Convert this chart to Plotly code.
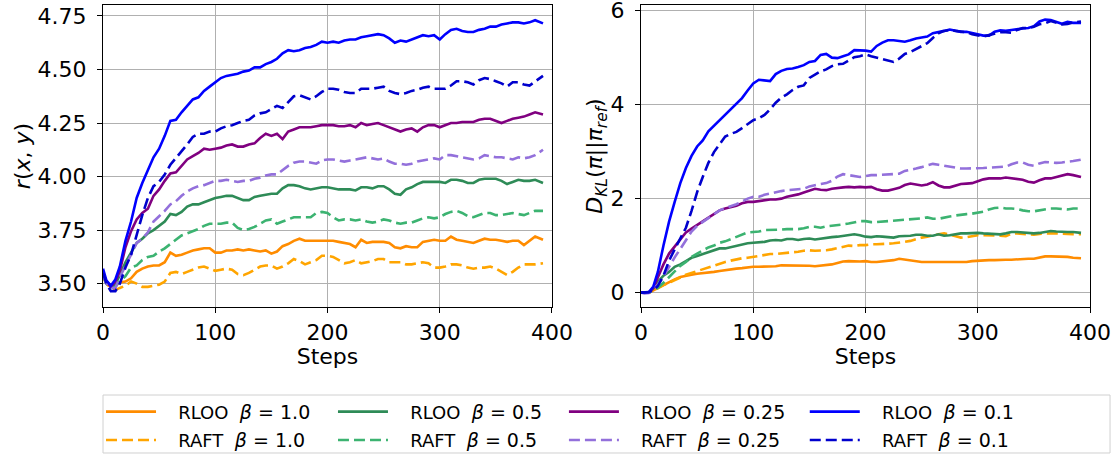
import plotly.graph_objects as go

# ---------------- data ----------------
steps = [0, 3, 7, 11, 15, 20, 25, 30, 35, 40,
         45, 50, 55, 60, 65, 70, 75, 80, 85, 90,
         95, 100, 105, 110, 115, 120, 125, 130, 135, 140,
         145, 150, 155, 160, 165, 170, 175, 180, 185, 190,
         195, 200, 205, 210, 215, 220, 225, 230, 235, 240,
         245, 250, 255, 260, 265, 270, 275, 280, 285, 290,
         295, 300, 305, 310, 315, 320, 325, 330, 335, 340,
         345, 350, 355, 360, 365, 370, 375, 380, 385, 392]

# reward r(x, y)
rloo_r_10 = [3.54, 3.51, 3.49, 3.495, 3.505, 3.51, 3.525, 3.555, 3.57, 3.58,
             3.585, 3.585, 3.60, 3.645, 3.63, 3.635, 3.645, 3.655, 3.66, 3.665,
             3.665, 3.645, 3.645, 3.655, 3.655, 3.66, 3.655, 3.66, 3.655, 3.65,
             3.655, 3.64, 3.65, 3.675, 3.685, 3.70, 3.71, 3.70, 3.70, 3.70,
             3.70, 3.70, 3.70, 3.695, 3.69, 3.685, 3.67, 3.705, 3.69, 3.695,
             3.695, 3.695, 3.69, 3.67, 3.665, 3.675, 3.67, 3.67, 3.695, 3.70,
             3.705, 3.70, 3.70, 3.72, 3.705, 3.70, 3.695, 3.69, 3.70, 3.71,
             3.705, 3.705, 3.70, 3.695, 3.70, 3.70, 3.68, 3.70, 3.72, 3.705]
raft_r_10 = [3.53, 3.50, 3.48, 3.47, 3.48, 3.49, 3.51, 3.50, 3.485, 3.485,
             3.49, 3.495, 3.51, 3.55, 3.555, 3.545, 3.555, 3.565, 3.575, 3.58,
             3.57, 3.56, 3.565, 3.57, 3.565, 3.545, 3.54, 3.55, 3.565, 3.58,
             3.585, 3.585, 3.57, 3.58, 3.595, 3.615, 3.605, 3.59, 3.60, 3.61,
             3.63, 3.63, 3.625, 3.61, 3.595, 3.60, 3.61, 3.595, 3.60, 3.605,
             3.615, 3.615, 3.60, 3.60, 3.60, 3.59, 3.59, 3.595, 3.60, 3.595,
             3.575, 3.575, 3.58, 3.59, 3.59, 3.585, 3.575, 3.57, 3.575, 3.575,
             3.58, 3.57, 3.555, 3.54, 3.555, 3.575, 3.59, 3.59, 3.59, 3.595]
rloo_r_05 = [3.55, 3.51, 3.49, 3.495, 3.54, 3.60, 3.645, 3.69, 3.71, 3.735,
             3.75, 3.77, 3.79, 3.825, 3.82, 3.835, 3.86, 3.87, 3.87, 3.88,
             3.89, 3.90, 3.905, 3.91, 3.91, 3.90, 3.89, 3.89, 3.905, 3.91,
             3.915, 3.92, 3.92, 3.945, 3.96, 3.96, 3.955, 3.945, 3.94, 3.945,
             3.95, 3.95, 3.945, 3.94, 3.94, 3.94, 3.935, 3.95, 3.95, 3.945,
             3.955, 3.955, 3.94, 3.92, 3.915, 3.94, 3.95, 3.965, 3.975, 3.975,
             3.975, 3.975, 3.97, 3.985, 3.985, 3.98, 3.97, 3.97, 3.985, 3.99,
             3.99, 3.99, 3.98, 3.965, 3.975, 3.985, 3.98, 3.98, 3.985, 3.97]
raft_r_05 = [3.54, 3.50, 3.48, 3.485, 3.51, 3.535, 3.575, 3.585, 3.61, 3.625,
             3.63, 3.65, 3.665, 3.685, 3.705, 3.725, 3.735, 3.745, 3.755, 3.77,
             3.78, 3.78, 3.78, 3.785, 3.785, 3.76, 3.75, 3.755, 3.765, 3.78,
             3.795, 3.80, 3.78, 3.79, 3.80, 3.81, 3.81, 3.81, 3.81, 3.83,
             3.835, 3.83, 3.81, 3.795, 3.80, 3.80, 3.795, 3.80, 3.79, 3.785,
             3.79, 3.80, 3.795, 3.785, 3.78, 3.785, 3.785, 3.795, 3.805, 3.81,
             3.805, 3.81, 3.825, 3.835, 3.84, 3.83, 3.815, 3.81, 3.82, 3.83,
             3.83, 3.82, 3.82, 3.825, 3.83, 3.825, 3.82, 3.83, 3.84, 3.84]
rloo_r_025 = [3.55, 3.51, 3.485, 3.51, 3.56, 3.67, 3.745, 3.80, 3.83, 3.85,
              3.91, 3.94, 3.98, 4.015, 4.02, 4.05, 4.08, 4.095, 4.11, 4.13,
              4.125, 4.13, 4.135, 4.145, 4.15, 4.14, 4.14, 4.15, 4.155, 4.18,
              4.20, 4.19, 4.20, 4.175, 4.21, 4.22, 4.23, 4.23, 4.23, 4.235,
              4.24, 4.24, 4.24, 4.235, 4.235, 4.24, 4.23, 4.25, 4.24, 4.245,
              4.25, 4.24, 4.23, 4.22, 4.21, 4.22, 4.225, 4.21, 4.23, 4.24,
              4.24, 4.23, 4.24, 4.25, 4.25, 4.255, 4.255, 4.255, 4.265, 4.27,
              4.27, 4.26, 4.25, 4.26, 4.27, 4.275, 4.28, 4.29, 4.30, 4.29]
raft_r_025 = [3.54, 3.50, 3.48, 3.48, 3.53, 3.58, 3.635, 3.69, 3.71, 3.74,
              3.79, 3.815, 3.84, 3.87, 3.885, 3.91, 3.93, 3.945, 3.955, 3.96,
              3.97, 3.98, 3.98, 3.985, 3.98, 3.975, 3.98, 3.98, 3.99, 3.995,
              4.005, 4.01, 4.01, 4.03, 4.05, 4.065, 4.07, 4.07, 4.065, 4.06,
              4.075, 4.08, 4.08, 4.075, 4.07, 4.075, 4.08, 4.085, 4.09, 4.085,
              4.08, 4.085, 4.07, 4.06, 4.06, 4.055, 4.06, 4.07, 4.075, 4.08,
              4.085, 4.08, 4.10, 4.10, 4.095, 4.09, 4.085, 4.08, 4.085, 4.10,
              4.095, 4.09, 4.09, 4.085, 4.08, 4.09, 4.085, 4.09, 4.10, 4.125]
rloo_r_01 = [3.57, 3.515, 3.49, 3.52, 3.58, 3.70, 3.79, 3.90, 3.97, 4.03,
             4.09, 4.13, 4.19, 4.26, 4.265, 4.30, 4.33, 4.36, 4.37, 4.40,
             4.42, 4.44, 4.46, 4.47, 4.475, 4.48, 4.49, 4.495, 4.51, 4.51,
             4.525, 4.535, 4.55, 4.575, 4.59, 4.585, 4.59, 4.60, 4.605, 4.615,
             4.63, 4.625, 4.63, 4.625, 4.635, 4.64, 4.64, 4.65, 4.655, 4.66,
             4.665, 4.66, 4.645, 4.625, 4.635, 4.63, 4.64, 4.65, 4.66, 4.655,
             4.66, 4.64, 4.665, 4.685, 4.69, 4.68, 4.675, 4.675, 4.685, 4.69,
             4.70, 4.70, 4.71, 4.715, 4.72, 4.72, 4.715, 4.72, 4.73, 4.715]
raft_r_01 = [3.55, 3.50, 3.465, 3.465, 3.50, 3.575, 3.635, 3.73, 3.82, 3.90,
             3.955, 3.975, 4.01, 4.055, 4.085, 4.12, 4.15, 4.185, 4.20, 4.20,
             4.21, 4.21, 4.225, 4.235, 4.24, 4.25, 4.26, 4.265, 4.285, 4.295,
             4.30, 4.315, 4.33, 4.32, 4.35, 4.375, 4.38, 4.37, 4.36, 4.375,
             4.395, 4.41, 4.41, 4.405, 4.395, 4.39, 4.39, 4.41, 4.41, 4.41,
             4.415, 4.42, 4.40, 4.39, 4.385, 4.39, 4.40, 4.405, 4.415, 4.42,
             4.41, 4.41, 4.41, 4.425, 4.445, 4.445, 4.44, 4.43, 4.45, 4.46,
             4.455, 4.445, 4.435, 4.42, 4.44, 4.44, 4.43, 4.425, 4.445, 4.47]

# KL divergence D_KL(pi || pi_ref)
rloo_kl_10 = [0, 0, 0, 0.05, 0.10, 0.17, 0.23, 0.28, 0.33, 0.36,
              0.38, 0.40, 0.41, 0.43, 0.44, 0.46, 0.48, 0.49, 0.51, 0.52,
              0.54, 0.55, 0.55, 0.55, 0.56, 0.56, 0.58, 0.58, 0.58, 0.58,
              0.57, 0.57, 0.56, 0.57, 0.58, 0.60, 0.63, 0.66, 0.67, 0.66,
              0.66, 0.67, 0.65, 0.65, 0.66, 0.67, 0.69, 0.72, 0.70, 0.68,
              0.66, 0.65, 0.65, 0.65, 0.65, 0.65, 0.65, 0.65, 0.65, 0.65,
              0.67, 0.68, 0.69, 0.69, 0.69, 0.70, 0.70, 0.70, 0.71, 0.72,
              0.72, 0.72, 0.74, 0.77, 0.77, 0.77, 0.77, 0.76, 0.74, 0.73]
raft_kl_10 = [0, 0, 0, 0.04, 0.10, 0.16, 0.21, 0.26, 0.32, 0.38,
              0.42, 0.46, 0.50, 0.54, 0.58, 0.62, 0.65, 0.68, 0.71, 0.73,
              0.74, 0.76, 0.77, 0.79, 0.82, 0.82, 0.83, 0.84, 0.86, 0.87,
              0.89, 0.90, 0.89, 0.89, 0.90, 0.92, 0.95, 0.98, 1.00, 0.99,
              1.01, 1.01, 1.03, 1.03, 1.03, 1.04, 1.05, 1.06, 1.08, 1.10,
              1.14, 1.17, 1.19, 1.22, 1.24, 1.26, 1.23, 1.19, 1.17, 1.18,
              1.20, 1.22, 1.22, 1.22, 1.22, 1.21, 1.20, 1.25, 1.26, 1.25,
              1.23, 1.23, 1.25, 1.26, 1.26, 1.26, 1.26, 1.25, 1.24, 1.24]
rloo_kl_05 = [0, 0, 0, 0.09, 0.23, 0.36, 0.44, 0.55, 0.60, 0.67,
              0.74, 0.78, 0.82, 0.86, 0.89, 0.94, 0.94, 0.97, 1.00, 1.02,
              1.05, 1.06, 1.07, 1.08, 1.11, 1.12, 1.11, 1.14, 1.14, 1.12,
              1.14, 1.15, 1.13, 1.15, 1.17, 1.18, 1.19, 1.21, 1.23, 1.24,
              1.22, 1.19, 1.18, 1.20, 1.19, 1.18, 1.17, 1.20, 1.20, 1.21,
              1.23, 1.23, 1.21, 1.21, 1.24, 1.21, 1.22, 1.24, 1.26, 1.26,
              1.27, 1.27, 1.26, 1.25, 1.24, 1.24, 1.26, 1.29, 1.29, 1.28,
              1.27, 1.26, 1.27, 1.29, 1.31, 1.30, 1.29, 1.29, 1.29, 1.27]
raft_kl_05 = [0, 0, 0, 0.04, 0.10, 0.21, 0.33, 0.45, 0.57, 0.65,
              0.76, 0.83, 0.90, 0.96, 1.00, 1.06, 1.09, 1.14, 1.19, 1.24,
              1.28, 1.29, 1.30, 1.33, 1.33, 1.34, 1.34, 1.35, 1.35, 1.35,
              1.37, 1.40, 1.40, 1.38, 1.41, 1.42, 1.44, 1.45, 1.47, 1.50,
              1.52, 1.52, 1.50, 1.50, 1.51, 1.52, 1.52, 1.54, 1.55, 1.56,
              1.57, 1.58, 1.60, 1.57, 1.57, 1.60, 1.62, 1.64, 1.66, 1.67,
              1.68, 1.70, 1.72, 1.77, 1.80, 1.81, 1.79, 1.79, 1.78, 1.75,
              1.73, 1.73, 1.75, 1.77, 1.79, 1.79, 1.78, 1.77, 1.79, 1.79]
rloo_kl_025 = [0, 0, 0, 0.10, 0.33, 0.60, 0.83, 0.98, 1.14, 1.28,
               1.36, 1.44, 1.52, 1.60, 1.67, 1.75, 1.79, 1.82, 1.85, 1.90,
               1.93, 1.93, 1.95, 1.96, 1.98, 1.98, 2.00, 2.04, 2.06, 2.09,
               2.13, 2.17, 2.21, 2.19, 2.18, 2.21, 2.23, 2.24, 2.25, 2.24,
               2.25, 2.24, 2.25, 2.20, 2.17, 2.17, 2.20, 2.23, 2.29, 2.32,
               2.30, 2.28, 2.30, 2.35, 2.28, 2.24, 2.24, 2.27, 2.31, 2.32,
               2.33, 2.37, 2.41, 2.43, 2.43, 2.43, 2.45, 2.43, 2.41, 2.40,
               2.36, 2.34, 2.39, 2.43, 2.43, 2.46, 2.50, 2.52, 2.50, 2.46]
raft_kl_025 = [0, -0.02, -0.01, 0.07, 0.17, 0.34, 0.55, 0.75, 0.93, 1.12,
               1.30, 1.42, 1.50, 1.58, 1.66, 1.75, 1.80, 1.84, 1.88, 1.94,
               2.00, 2.04, 2.04, 2.08, 2.11, 2.13, 2.16, 2.18, 2.19, 2.21,
               2.21, 2.26, 2.29, 2.31, 2.33, 2.38, 2.47, 2.52, 2.50, 2.48,
               2.46, 2.48, 2.50, 2.50, 2.51, 2.52, 2.53, 2.53, 2.59, 2.61,
               2.64, 2.67, 2.70, 2.74, 2.72, 2.70, 2.68, 2.65, 2.64, 2.64,
               2.64, 2.64, 2.65, 2.66, 2.67, 2.67, 2.68, 2.73, 2.77, 2.77,
               2.72, 2.70, 2.75, 2.78, 2.77, 2.76, 2.77, 2.78, 2.80, 2.83]
rloo_kl_01 = [0, 0, 0.01, 0.13, 0.44, 1.00, 1.51, 1.93, 2.33, 2.65,
              2.91, 3.11, 3.24, 3.43, 3.55, 3.68, 3.80, 3.90, 4.03, 4.14,
              4.30, 4.45, 4.53, 4.51, 4.50, 4.65, 4.72, 4.76, 4.77, 4.80,
              4.84, 4.91, 4.93, 5.06, 5.08, 5.00, 4.99, 5.03, 5.07, 5.16,
              5.16, 5.15, 5.13, 5.25, 5.32, 5.37, 5.37, 5.35, 5.34, 5.37,
              5.41, 5.43, 5.45, 5.52, 5.54, 5.57, 5.60, 5.57, 5.55, 5.55,
              5.52, 5.49, 5.47, 5.47, 5.55, 5.58, 5.57, 5.59, 5.61, 5.62,
              5.63, 5.67, 5.77, 5.81, 5.80, 5.76, 5.72, 5.76, 5.74, 5.74]
raft_kl_01 = [0, 0, 0.01, 0.05, 0.14, 0.36, 0.68, 0.92, 1.14, 1.38,
              1.74, 2.14, 2.46, 2.76, 2.99, 3.15, 3.32, 3.38, 3.42, 3.50,
              3.59, 3.67, 3.71, 3.78, 3.90, 4.04, 4.15, 4.22, 4.31, 4.38,
              4.41, 4.57, 4.64, 4.71, 4.75, 4.82, 4.86, 4.87, 4.94, 5.01,
              5.03, 5.07, 5.03, 5.00, 4.97, 4.94, 4.91, 4.98, 5.08, 5.12,
              5.18, 5.24, 5.31, 5.42, 5.52, 5.57, 5.59, 5.57, 5.55, 5.54,
              5.50, 5.48, 5.45, 5.48, 5.51, 5.54, 5.54, 5.53, 5.59, 5.63,
              5.63, 5.66, 5.71, 5.73, 5.78, 5.75, 5.71, 5.72, 5.75, 5.77]

methods = ["RLOO", "RLOO", "RLOO", "RLOO", "RAFT", "RAFT", "RAFT", "RAFT"]
betas = ["1.0", "0.5", "0.25", "0.1", "1.0", "0.5", "0.25", "0.1"]
reward_series = [rloo_r_10, rloo_r_05, rloo_r_025, rloo_r_01,
                 raft_r_10, raft_r_05, raft_r_025, raft_r_01]
kl_series = [rloo_kl_10, rloo_kl_05, rloo_kl_025, rloo_kl_01,
             raft_kl_10, raft_kl_05, raft_kl_025, raft_kl_01]
colors = ["#FF8C00", "#2E8B57", "#800080", "#0000FF",
          "#FFA500", "#3CB371", "#9370DB", "#0000CD"]

reward_ticks = [3.50, 3.75, 4.00, 4.25, 4.50, 4.75]
kl_ticks = [0, 2, 4, 6]
step_ticks = [0, 100, 200, 300, 400]

# ---------------- figure ----------------
FONT = "DejaVu Sans"
fig = go.Figure()

# one legend per beta column (RLOO on top, RAFT below)
legend_ids = ["legend", "legend2", "legend3", "legend4"]
legend_x = [-0.002, 0.233, 0.467, 0.711]

draw_order = [0, 4, 1, 5, 2, 6, 3, 7]
for i in draw_order:
    dash = "solid" if methods[i] == "RLOO" else "11px,5px"
    name = (f"&nbsp;&nbsp;&nbsp;{methods[i]}&nbsp;&nbsp;"
            f"<span style='font-size:19px'><i>β</i> = {betas[i]}</span>")
    line = dict(color=colors[i], width=2.6, dash=dash)
    lg = legend_ids[i % 4]
    fig.add_trace(go.Scatter(x=steps, y=reward_series[i], mode="lines", line=line,
                             name=name, legendgroup=str(i), legendrank=i + 1,
                             legend=lg, xaxis="x", yaxis="y", showlegend=True))
    fig.add_trace(go.Scatter(x=steps, y=kl_series[i], mode="lines", line=line,
                             name=name, legendgroup=str(i), legendrank=i + 1,
                             legend=lg, xaxis="x2", yaxis="y2", showlegend=False))

axis_common = dict(
    showgrid=True, gridcolor="#b0b0b0", gridwidth=1,
    showline=True, linecolor="black", linewidth=1.2, mirror=True,
    ticks="outside", ticklen=5, tickcolor="black", tickwidth=1.2,
    tickfont=dict(family=FONT, size=22, color="black"),
    zeroline=False, ticklabeloverflow="allow",
)

legend_common = dict(
    orientation="v", xanchor="left", yanchor="middle", y=-0.3937,
    font=dict(family=FONT, size=18, color="black"),
    borderwidth=0, bgcolor="rgba(0,0,0,0)",
    traceorder="grouped", tracegroupgap=2, itemwidth=50,
)
legends = {lid: dict(x=lx, **legend_common) for lid, lx in zip(legend_ids, legend_x)}

fig.update_layout(
    width=1116, height=455,
    margin=dict(l=103, r=26, t=5, b=148, autoexpand=False),
    paper_bgcolor="white", plot_bgcolor="white",
    font=dict(family=FONT, color="black"),
    xaxis=dict(domain=[0, 0.4549], range=[0, 400], tickvals=step_ticks,
               ticklabelstandoff=0,
               title=dict(text="Steps", font=dict(size=22), standoff=2), **axis_common),
    yaxis=dict(range=[3.391, 4.801], tickvals=reward_ticks, tickformat=".2f",
               ticklabelstandoff=6,
               title=dict(text="<i>r</i>(<i>x</i>, <i>y</i>)", font=dict(size=22), standoff=0),
               **axis_common),
    xaxis2=dict(domain=[0.5451, 1], range=[0, 400], tickvals=step_ticks, anchor="y2",
                ticklabelstandoff=0,
                title=dict(text="Steps", font=dict(size=22), standoff=2), **axis_common),
    yaxis2=dict(range=[-0.307, 6.121], tickvals=kl_ticks, anchor="x2",
                ticklabelstandoff=6,
                title=dict(text="<i>D</i><sub><i>KL</i></sub>(<i>π</i>||<i>π</i><sub><i>ref</i></sub>)",
                           font=dict(size=22), standoff=0),
                **axis_common),
    showlegend=True,
    shapes=[dict(type="rect", xref="paper", yref="paper",
                 x0=0.0, x1=1.0203, y0=-0.2914, y1=-0.4834,
                 line=dict(color="#d0d0d0", width=1), fillcolor="rgba(0,0,0,0)",
                 layer="below")],
    **legends,
)

fig.write_html("out.html", config={"displayModeBar": False},
               post_script="document.body.style.margin='0px';document.body.style.overflow='hidden';")
